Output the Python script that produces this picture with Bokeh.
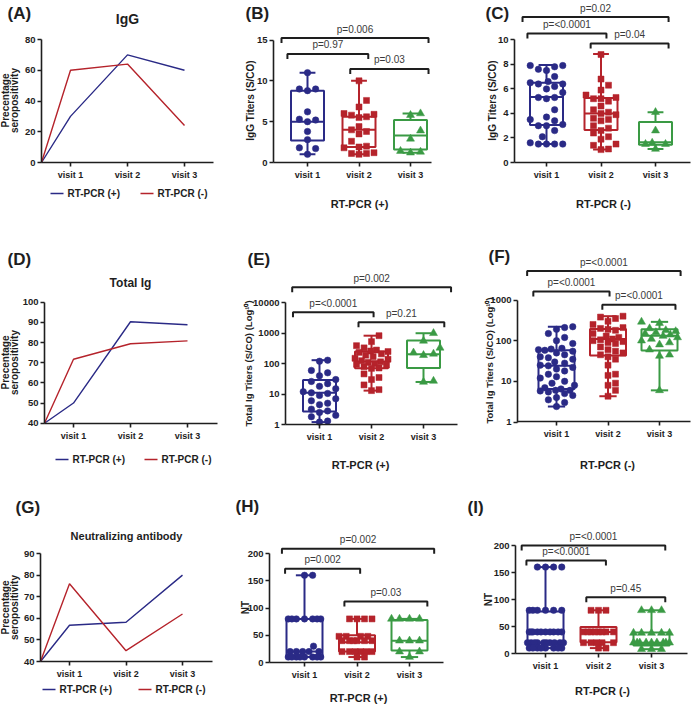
import math
from bokeh.plotting import figure
from bokeh.layouts import column, row
from bokeh.models import Range1d, FixedTicker, Label, PrintfTickFormatter
from bokeh.embed import file_html
from bokeh.resources import INLINE

FONT = "Liberation Sans"
BLUE = "#2a2a86"
RED = "#b5232b"
GREEN = "#3a9a44"
INK = "#1e1e1e"
PTXT = "#3a3a3a"

VISITS = ["visit 1", "visit 2", "visit 3"]
GROUPS = ["RT-PCR (+)", "RT-PCR (-)"]

# ---- line charts: percentage seropositivity (baseline = axis minimum) ----
IGG_BASE = 0
IGG_POS = [30, 70, 60]
IGG_NEG = [60, 64, 24]
TIG_BASE = 40
TIG_POS = [50, 90.3, 88.8]
TIG_NEG = [71.7, 79.4, 80.8]
NT_BASE = 40
NT_POS = [56.8, 58.2, 80]
NT_NEG = [76, 45, 62]

# ---- box plots: individual values ----
B_V1 = [11.0, 9.0, 9.0, 8.8, 6.2, 5.3, 5.2, 5.0, 3.8, 2.8, 1.8, 1.7, 1.0]
B_V2 = [10.0, 7.6, 6.8, 6.0, 5.9, 5.8, 5.6, 5.5, 4.4, 4.0, 3.8, 3.5, 2.6, 2.0, 1.9, 1.8, 1.2, 1.1, 1.1, 1.0]
B_V3 = [6.0, 5.8, 3.9, 2.9, 1.4, 1.3, 1.2]
C_V1 = [7.9, 7.9, 7.8, 7.6, 7.5, 7.0, 6.6, 6.5, 6.4, 6.4, 6.2, 6.0, 5.7, 5.3, 5.3, 5.2, 4.3, 3.7, 3.5, 3.4,
        3.1, 3.0, 3.0, 2.6, 2.1, 1.6, 1.5, 1.5, 1.5, 1.5]
C_V2 = [8.8, 6.8, 6.3, 5.9, 5.5, 5.3, 5.2, 5.2, 5.0, 4.6, 4.3, 4.1, 4.0, 3.9, 3.6, 3.5, 3.4, 3.0, 2.8, 2.6,
        2.4, 2.1, 1.9, 1.5, 1.4, 1.1, 1.05]
C_V3 = [4.1, 2.6, 1.6, 1.5, 1.5, 1.1]
E_V1 = [130, 120, 60, 50, 40, 30, 26, 22, 18, 15, 12, 11, 10.5, 9, 7, 6, 5, 4.5, 3.2, 2.8, 2.5, 2.0, 1.8, 1.3, 1.2]
E_V2 = [830, 530, 390, 330, 280, 260, 250, 235, 210, 190, 170, 150, 140, 125, 115, 110, 100, 95, 90, 80,
        72, 70, 46, 35, 30, 20, 14, 13]
E_V3 = [1000, 560, 330, 230, 210, 190, 27, 25]
F_V1 = [220, 210, 190, 150, 120, 100, 85, 65, 62, 60, 58, 55, 50, 45, 40, 38, 35, 30, 28, 25, 24, 22, 20,
        18, 15, 13, 12, 10, 9, 8, 7, 6.5, 6, 6, 5.8, 5.5, 5, 4.5, 4, 3.5, 3, 2.4]
F_V2 = [400, 380, 350, 300, 250, 210, 200, 190, 180, 150, 130, 120, 110, 105, 100, 95, 90, 85, 70, 60,
        55, 50, 45, 40, 35, 25, 15, 14, 9, 8, 6, 4.3]
F_V3 = [290, 270, 200, 180, 170, 160, 150, 140, 130, 120, 110, 100, 90, 80, 60, 45, 42, 6]
H_V1 = [160, 160, 80, 80, 80, 80, 80, 80, 80, 30, 20, 20, 20, 20, 20, 10, 10, 10, 10, 10, 10, 10, 10]
H_V2 = [80, 80, 80, 80, 48, 48, 48, 48, 40, 40, 40, 40, 40, 40, 20, 20, 20, 20, 20, 20, 10, 10]
H_V3 = [80, 80, 80, 80, 40, 40, 40, 20, 20, 10]
I_V1 = [160] * 4 + [80] * 6 + [40] * 10 + [20] * 10 + [10] * 8
I_V2 = [80] * 3 + [40] * 8 + [20] * 5 + [10] * 2
I_V3 = [80] * 3 + [38] * 5 + [20] * 9 + [8] * 3

# ---- box statistics: [min, Q1, median, Q3, max] per visit ----
B_STATS = [[1.0, 2.7, 5.0, 8.8, 11.0], [1.0, 1.9, 4.0, 5.6, 10.0], [1.2, 1.6, 3.3, 5.2, 6.0]]
C_STATS = [[1.5, 3.06, 5.34, 6.5, 7.95], [1.05, 2.65, 4.0, 5.25, 8.85], [1.1, 1.45, 1.65, 3.3, 4.1]]
E_STATS = [[1.2, 2.7, 11, 29, 130], [13, 70, 117, 253, 830], [25, 72, 205, 575, 1000]]
F_STATS = [[2.4, 6.5, 24, 58, 220], [4.3, 43, 110, 193, 400], [6, 57, 133, 190, 290]]
H_STATS = [[10, 10, 20, 80, 160], [10, 20, 37, 50, 80], [10, 22, 40, 78, 80]]
I_STATS = [[10, 20, 40, 78, 160], [10, 21, 40, 49, 80], [8, 15, 20, 39, 80]]

# ---- significance brackets: (from, to, height, label) ----
B_BR = [(0.495, 3.35, 15.24, "p=0.006"), (0.61, 2.18, 13.3, "p=0.97"), (1.83, 3.35, 11.46, "p=0.03")]
C_BR = [(0.56, 3.24, 11.85, "p=0.02"), (0.65, 2.10, 10.51, "p=<0.0001"), (1.81, 3.24, 9.7, "p=0.04")]
E_BR = [(0.475, 3.53, 32400, "p=0.002"), (0.49, 2.04, 4900, "p=<0.0001"), (1.75, 3.40, 2300, "p=0.21")]
F_BR = [(0.43, 3.41, 5130, "p=<0.0001"), (0.55, 2.03, 1620, "p=<0.0001"), (1.89, 3.31, 760, "p=<0.0001")]
H_BR = [(0.57, 3.47, 208.6, "p=0.002"), (0.63, 2.06, 171.9, "p=0.002"), (1.76, 3.34, 111.9, "p=0.03")]
I_BR = [(0.55, 3.26, 200, "p=<0.0001"), (0.64, 2.14, 172, "p=<0.0001"), (1.77, 3.26, 104, "p=0.45")]

# ---- page geometry ----
COL_X = [0, 230, 460]
COL_W = [230, 230, 234]
ROW_Y = [0, 228, 475]
ROW_H = [228, 247, 231]


def make_panel(col, rw, ax, ay, x1, x3, yv0, yp0, yv1, yp1, log, xend, yticks):
    W, H = COL_W[col], ROW_H[rw]
    X0, Y0 = COL_X[col], ROW_Y[rw]
    dx = (x3 - x1) / 2.0
    xc = 1 - (x1 - ax) / dx
    xr0 = 1 - (x1 - X0) / dx
    xr1 = 1 + (X0 + W - x1) / dx
    f = (lambda v: math.log10(v)) if log else (lambda v: v)
    ppu = (yp0 - yp1) / (f(yv1) - f(yv0))
    yc = f(yv0) + (yp0 - ay) / ppu
    yr0 = f(yv0) + (yp0 - (Y0 + H)) / ppu
    yr1 = f(yv0) + (yp0 - Y0) / ppu
    if log:
        yc, yr0, yr1 = 10 ** yc, 10 ** yr0, 10 ** yr1
    p = figure(width=W, height=H, x_range=Range1d(xr0, xr1), y_range=Range1d(yr0, yr1),
               y_axis_type="log" if log else "linear", output_backend="svg", toolbar_location=None,
               min_border_left=0, min_border_right=0, min_border_top=0, min_border_bottom=0)
    p.outline_line_color = None
    p.grid.visible = False
    p.background_fill_color = "white"
    p.border_fill_color = "white"
    p.xaxis.fixed_location = yc
    p.yaxis.fixed_location = xc
    p.xaxis.ticker = FixedTicker(ticks=[1, 2, 3])
    p.xaxis.major_label_overrides = {1: VISITS[0], 2: VISITS[1], 3: VISITS[2]}
    p.xaxis.bounds = (xc, 1 + (xend - x1) / dx)
    p.yaxis.ticker = FixedTicker(ticks=yticks)
    p.yaxis.bounds = (yticks[0], yticks[-1])
    if log:
        p.yaxis.formatter = PrintfTickFormatter(format="%d")
    for a in (p.xaxis, p.yaxis):
        a.axis_line_width = 1.6
        a.axis_line_color = INK
        a.major_tick_line_width = 1.6
        a.major_tick_line_color = INK
        a.major_tick_out = 4
        a.major_tick_in = 0
        a.minor_tick_line_color = None
        a.major_label_text_font = FONT
        a.major_label_text_font_style = "bold"
        a.major_label_text_color = INK
    p.xaxis.major_label_text_font_size = "9px"
    p.yaxis.major_label_text_font_size = "9.5px"
    p.xaxis.major_label_standoff = 3
    p.yaxis.major_label_standoff = 2
    geo = dict(X0=X0, Yb=Y0 + H, dx=dx, ppu=ppu, log=log, f=f, yv0=yv0, xc=xc, xr0=xr0, yr0=yr0)
    return p, geo


def text(p, geo, s, x, y, size, bold=True, angle=0.0, align="center", color=INK):
    p.add_layout(Label(x=x - geo["X0"], y=geo["Yb"] - y, x_units="screen", y_units="screen", text=s,
                       text_font=FONT, text_font_size=size, text_font_style="bold" if bold else "normal",
                       text_color=color, text_align=align, text_baseline="middle", angle=angle))


def page_to_data(geo, px, py):
    xd = geo["xr0"] + (px - geo["X0"]) / geo["dx"]
    up = (geo["Yb"] - py) / geo["ppu"]
    yd = 10 ** (math.log10(geo["yr0"]) + up) if geo["log"] else geo["yr0"] + up
    return xd, yd


def shift(geo, v, px):
    # value moved by px screen pixels (positive = up)
    if geo["log"]:
        return 10 ** (math.log10(v) + px / geo["ppu"])
    return v + px / geo["ppu"]


def to_px(geo, v):
    return (geo["f"](v) - geo["f"](geo["yv0"])) * geo["ppu"]


def swarm(geo, vals, m, hw):
    n = len(vals)
    pys = [to_px(geo, v) for v in vals]
    order = sorted(range(n), key=lambda i: (pys[i], i))
    placed, offs = [], [0.0] * n
    step = m * 1.25
    cands = [0.0]
    k = 1
    while k * step <= hw + 1e-6:
        cands += [k * step, -k * step]
        k += 1
    fine = sorted([hw * j / 20.0 for j in range(-20, 21)], key=abs)
    for i in order:
        y = pys[i]
        near = [(ox, oy) for ox, oy in placed if abs(oy - y) < m * 1.2]
        choice = None
        for c in cands:
            if all((c - ox) ** 2 + (y - oy) ** 2 >= (m * 1.15) ** 2 for ox, oy in near):
                choice = c
                break
        if choice is None:
            choice = max(fine, key=lambda c: min((c - ox) ** 2 + (y - oy) ** 2 for ox, oy in near))
        placed.append((choice, y))
        offs[i] = choice
    return [o / geo["dx"] for o in offs]


MARK = [("circle", BLUE, 6.5), ("square", RED, 6), ("triangle", GREEN, 8)]


def box_panel(p, geo, groups, stats, brackets, box_px):
    bw = box_px / 2.0 / geo["dx"]
    cw = box_px * 0.24 / geo["dx"]
    for i, (vals, st) in enumerate(zip(groups, stats)):
        x = i + 1
        marker, c, sz = MARK[i]
        mn, q1, md, q3, mx = st
        p.quad(left=[x - bw], right=[x + bw], bottom=[q1], top=[q3], fill_color=None, line_color=c, line_width=2)
        p.segment(x0=[x, x, x - bw, x - cw, x - cw], y0=[q3, q1, md, mx, mn],
                  x1=[x, x, x + bw, x + cw, x + cw], y1=[mx, mn, md, mx, mn], line_color=c, line_width=2)
        offs = swarm(geo, vals, sz, box_px / 2.0)
        p.scatter([x + o for o in offs], vals, marker=marker, size=sz, fill_color=c, line_color=c, line_width=0.5)
    for (a, b, y, s) in brackets:
        d = shift(geo, y, -5)
        p.line([a, a, b, b], [d, y, y, d], line_color=INK, line_width=2)
        p.add_layout(Label(x=(a + b) / 2.0, y=y, y_offset=9, text=s, text_font=FONT, text_font_size="10px",
                           text_color=PTXT, text_align="center", text_baseline="middle"))


def line_panel(p, geo, base, pos, neg, key_pos, key_y):
    xs = [geo["xc"], 1, 2, 3]
    p.line(xs, [base] + pos, line_color=BLUE, line_width=1.4)
    p.line(xs, [base] + neg, line_color=RED, line_width=1.4)
    # legend keys (layout positions in page pixels)
    for (kx, c, lab) in zip(key_pos, (BLUE, RED), GROUPS):
        xa, ya = page_to_data(geo, kx, key_y)
        xb, _ = page_to_data(geo, kx + 13, key_y)
        p.line([xa, xb], [ya, ya], line_color=c, line_width=1.4)
        text(p, geo, lab, kx + 17, key_y, "10px", align="left")


def ytitle2(p, geo, yc):
    text(p, geo, "Precentage", 5, yc, "10px", angle=math.pi / 2)
    text(p, geo, "seropositivity", 13.5, yc, "10px", angle=math.pi / 2)


# (A)
pA, gA = make_panel(0, 0, 41, 162, 70, 184, 0, 162, 80, 39, False, 213, [0, 20, 40, 60, 80])
line_panel(pA, gA, IGG_BASE, IGG_POS, IGG_NEG, (50, 140), 193)
text(pA, gA, "(A)", 7, 13, "17px", align="left")
text(pA, gA, "IgG", 127, 18, "14px")
ytitle2(pA, gA, 100)

# (B)
pB, gB = make_panel(1, 0, 273, 162, 307, 410, 0, 162, 15, 39.5, False, 431, [0, 5, 10, 15])
box_panel(pB, gB, [B_V1, B_V2, B_V3], B_STATS, B_BR, 33)
text(pB, gB, "(B)", 245, 13, "17px", align="left")
text(pB, gB, "IgG Titers (S/CO)", 250, 100, "10px", angle=math.pi / 2)
text(pB, gB, GROUPS[0], 359, 203, "11px")

# (C)
pC, gC = make_panel(2, 0, 514, 162, 546, 655, 0, 162, 10, 39.3, False, 690, [0, 2, 4, 6, 8, 10])
box_panel(pC, gC, [C_V1, C_V2, C_V3], C_STATS, C_BR, 33)
text(pC, gC, "(C)", 485, 13, "17px", align="left")
text(pC, gC, "IgG Titers (S/CO)", 492, 100, "10px", angle=math.pi / 2)
text(pC, gC, GROUPS[1], 603, 203, "11px")

# (D)
pD, gD = make_panel(0, 1, 44, 423, 73, 187, 40, 422.7, 100, 301.7, False, 217, [40, 50, 60, 70, 80, 90, 100])
line_panel(pD, gD, TIG_BASE, TIG_POS, TIG_NEG, (55, 144), 459)
text(pD, gD, "(D)", 7, 259, "17px", align="left")
text(pD, gD, "Total Ig", 130, 282, "12px")
ytitle2(pD, gD, 362)

# (E)
pE, gE = make_panel(1, 1, 285, 424, 319, 423, 1, 424, 10000, 302.3, True, 457, [1, 10, 100, 1000, 10000])
box_panel(pE, gE, [E_V1, E_V2, E_V3], E_STATS, E_BR, 33)
text(pE, gE, "(E)", 247, 259, "17px", align="left")
text(pE, gE, "Total Ig Titers (S/CO) (Log\u00b9\u2070)", 248, 363, "9.5px", angle=math.pi / 2)
text(pE, gE, GROUPS[0], 360, 464, "11px")

# (F)
pF, gF = make_panel(2, 1, 517, 421, 556, 659, 1, 421.5, 1000, 299.5, True, 690, [1, 10, 100, 1000])
box_panel(pF, gF, [F_V1, F_V2, F_V3], F_STATS, F_BR, 36)
text(pF, gF, "(F)", 488, 256, "17px", align="left")
text(pF, gF, "Total Ig Titers (S/CO) (Log\u00b9\u2070)", 489, 360, "9.5px", angle=math.pi / 2)
text(pF, gF, GROUPS[1], 607, 464, "11px")

# (G)
pG, gG = make_panel(0, 2, 40, 661, 69, 182, 40, 661, 90, 553, False, 212, [40, 50, 60, 70, 80, 90])
line_panel(pG, gG, NT_BASE, NT_POS, NT_NEG, (42, 138), 689)
text(pG, gG, "(G)", 15, 507, "17px", align="left")
text(pG, gG, "Neutralizing antibody", 126, 535, "11px")
ytitle2(pG, gG, 607)

# (H)
pH, gH = make_panel(1, 2, 269, 662, 304, 409, 0, 662, 200, 553, False, 443, [0, 50, 100, 150, 200])
box_panel(pH, gH, [H_V1, H_V2, H_V3], H_STATS, H_BR, 36)
text(pH, gH, "(H)", 235, 506, "17px", align="left")
text(pH, gH, "NT", 245, 607, "10px", angle=math.pi / 2)
text(pH, gH, GROUPS[0], 358, 697, "11px")

# (I)
pI, gI = make_panel(2, 2, 515, 653, 545, 651, 0, 653, 200, 545, False, 687, [0, 50, 100, 150, 200])
box_panel(pI, gI, [I_V1, I_V2, I_V3], I_STATS, I_BR, 36)
text(pI, gI, "(I)", 467, 507, "17px", align="left")
text(pI, gI, "NT", 488, 599, "10px", angle=math.pi / 2)
text(pI, gI, GROUPS[1], 602, 690, "11px")

layout = column(row(pA, pB, pC), row(pD, pE, pF), row(pG, pH, pI))
open("out.html", "w").write(file_html(layout, INLINE))
